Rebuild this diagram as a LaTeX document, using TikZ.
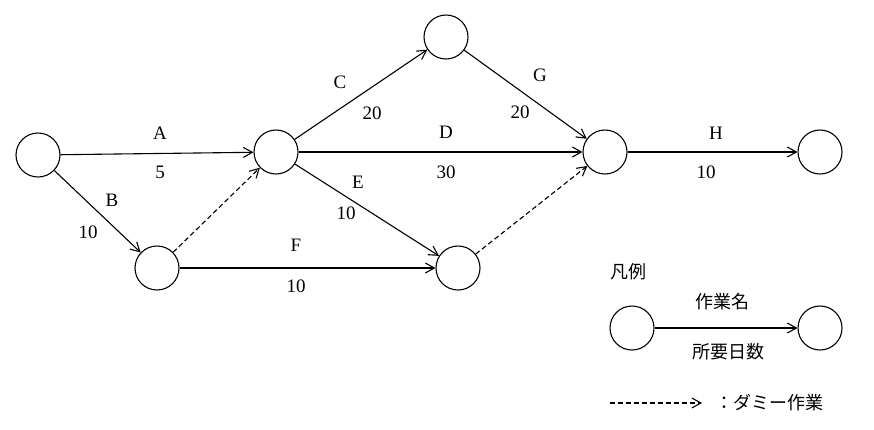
\documentclass[tikz,border=0pt]{standalone}
\usepackage{fontspec}
\setmainfont{Liberation Serif}
\newfontfamily\cjk{Noto Sans CJK JP}
\usetikzlibrary{arrows.meta}
\begin{document}
\begin{tikzpicture}[x=1pt,y=-1pt,
  ev/.style={circle,draw,line width=1.1pt,minimum size=44pt,inner sep=0pt},
  act/.style={draw,line width=1.1pt,-{Straight Barb[length=9pt,width=10pt]}},
  dum/.style={act,dash pattern=on 5pt off 3pt},
  lb/.style={font=\fontsize{19}{19}\selectfont},
  jp/.style={font=\fontsize{18}{18}\selectfont\cjk}]
\useasboundingbox (0,0) rectangle (874,429);
\node[ev] (n1) at (38,155) {};
\node[ev] (n2) at (276,152) {};
\node[ev] (n3) at (446,37) {};
\node[ev] (n4) at (605,152) {};
\node[ev] (n5) at (820,152) {};
\node[ev] (n6) at (157,268) {};
\node[ev] (n7) at (458,268) {};
\node[ev] (l1) at (632,328) {};
\node[ev] (l2) at (820,328) {};
\draw[act] (n1) -- (n2);
\draw[act] (n1) -- (n6);
\draw[dum] (n6) -- (n2);
\draw[act] (n2) -- (n3);
\draw[act] (n2) -- (n4);
\draw[act] (n2) -- (n7);
\draw[act] (n6) -- (n7);
\draw[act] (n3) -- (n4);
\draw[dum] (n7) -- (n4);
\draw[act] (n4) -- (n5);
\draw[act] (l1) -- (l2);
\node[lb] (tA) at (160,133) {A}; \node[lb] (dA) at (160,172) {5};
\node[lb] (tB) at (112,200) {B}; \node[lb] (dB) at (88,232) {10};
\node[lb] (tC) at (340,82) {C}; \node[lb] (dC) at (372,113) {20};
\node[lb] (tD) at (446,132) {D}; \node[lb] (dD) at (446,172) {30};
\node[lb] (tE) at (358,182) {E}; \node[lb] (dE) at (346,213) {10};
\node[lb] (tF) at (296,245) {F}; \node[lb] (dF) at (296,286) {10};
\node[lb] (tG) at (540,75) {G}; \node[lb] (dG) at (520,112) {20};
\node[lb] (tH) at (716,133) {H}; \node[lb] (dH) at (706,172) {10};
\node[jp] (leg) at (628,272) {凡例};
\node[jp] (ln) at (722,302) {作業名};
\node[jp] (ld) at (728,352) {所要日数};
\coordinate (ds) at (610,403);
\coordinate (de) at (702,403);
\draw[dum] (ds) -- (de);
\node[jp,anchor=west] (lt) at (712,403) {：ダミー作業};
\end{tikzpicture}
\end{document}
